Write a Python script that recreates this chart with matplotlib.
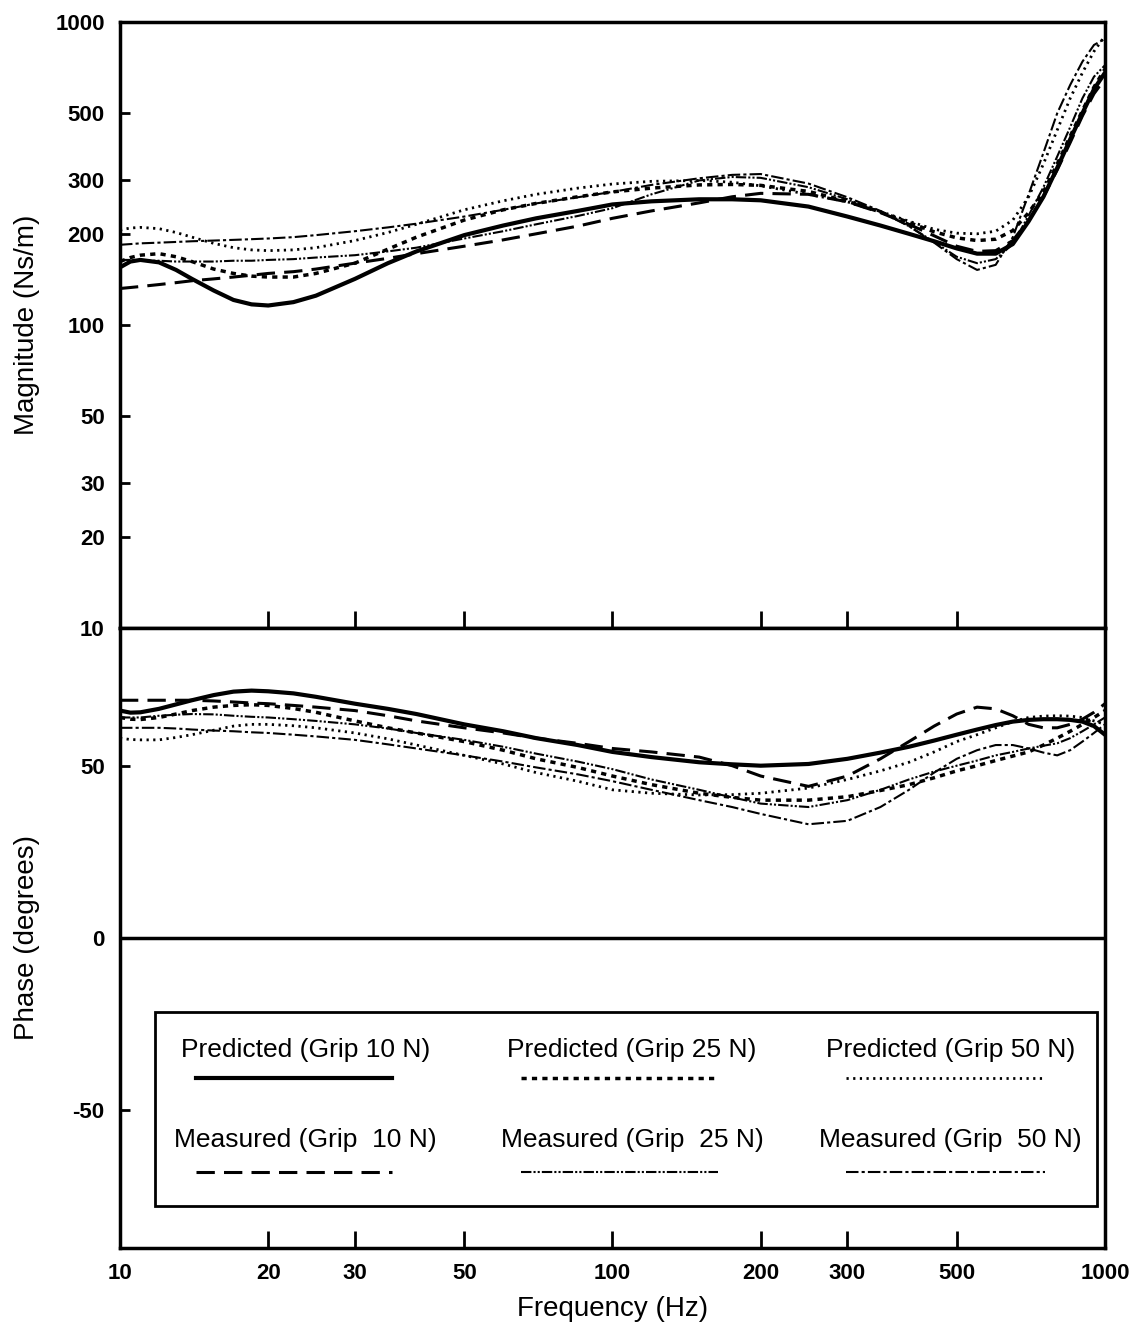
import matplotlib
matplotlib.use("Agg")
import matplotlib.pyplot as plt
from matplotlib.patches import Rectangle
from matplotlib.lines import Line2D
from matplotlib.ticker import FixedLocator, NullLocator

plt.rcParams['font.family'] = ['Liberation Sans', 'DejaVu Sans']

# ---------------- data ----------------
freq = [10, 10.5, 11, 12, 13, 14, 15.5, 17, 18.5, 20, 22.5, 25, 30, 35, 40, 50,
        60, 70, 85, 100, 120, 150, 175, 200, 250, 300, 350, 400, 450, 500, 550,
        600, 650, 700, 750, 800, 850, 900, 950, 1000]

# Magnitude (Ns/m)
mag_pred_10 = [155, 162, 164, 161, 152, 142, 130, 121, 117, 116, 119, 125, 142, 160,
               175, 198, 213, 225, 238, 250, 256, 260, 260, 258, 246, 228, 213, 200,
               189, 179, 172, 172, 185, 220, 265, 330, 410, 500, 600, 680]
mag_pred_25 = [162, 167, 170, 172, 168, 162, 153, 148, 145, 144, 144, 148, 160, 178,
               195, 222, 240, 252, 265, 275, 283, 290, 291, 289, 276, 256, 236, 218,
               203, 194, 190, 192, 205, 235, 275, 340, 420, 510, 610, 700]
mag_pred_50 = [206, 209, 210, 208, 202, 195, 186, 180, 177, 176, 177, 180, 190, 202,
               215, 240, 257, 270, 283, 292, 298, 300, 296, 288, 270, 255, 237, 220,
               207, 201, 200, 204, 222, 265, 340, 440, 560, 680, 800, 900]
mag_meas_10 = [132, 133, 134, 136, 138, 140, 142, 144, 146, 148, 150, 153, 160, 166,
               172, 182, 191, 200, 212, 225, 238, 253, 265, 272, 270, 255, 235, 215,
               197, 182, 175, 176, 190, 222, 265, 325, 400, 490, 580, 650]
mag_meas_25 = [164, 164, 163, 163, 162, 162, 162, 163, 163, 164, 165, 167, 170, 175,
               180, 193, 204, 215, 229, 243, 270, 300, 308, 306, 285, 260, 236, 212,
               188, 168, 160, 165, 185, 230, 285, 360, 450, 560, 660, 720]
mag_meas_50 = [184, 185, 186, 187, 188, 189, 190, 191, 192, 193, 195, 198, 204, 210,
               216, 228, 240, 252, 264, 275, 290, 305, 313, 315, 293, 264, 238, 212,
               187, 165, 152, 158, 195, 270, 370, 500, 620, 740, 840, 880]

# Phase (degrees)
ph_pred_10 = [66, 65.4, 65.5, 66.5, 67.8, 69, 70.5, 71.5, 71.8, 71.6, 71, 70, 68,
              66.5, 65, 62, 60, 58, 56, 54, 52.5, 51, 50.4, 50, 50.5, 52, 53.8,
              55.5, 57.3, 59, 60.5, 61.8, 62.8, 63.3, 63.5, 63.5, 63.3, 62.8, 61.5, 59]
ph_pred_25 = [64, 63.5, 63.4, 64, 65, 66, 67, 67.5, 67.7, 67.5, 66.6, 65.5, 63,
              61, 59.5, 57, 54.5, 52, 49.5, 47, 44.5, 42, 40.8, 40, 40, 41, 42.8,
              44.5, 46.5, 48.5, 50, 51.5, 52.8, 54, 56, 58, 60, 62, 64, 66]
ph_pred_50 = [58, 57.6, 57.5, 57.5, 58.2, 59, 60.3, 61.5, 62, 62, 61.6, 61, 59.5,
              57.8, 56, 53, 50.5, 48, 45.5, 43, 42, 41.5, 41.6, 42, 43.5, 46, 48.5,
              51, 54, 57, 59, 61, 62.8, 64, 64.4, 64.5, 64.4, 64, 63, 62]
ph_meas_10 = [69, 69, 69, 69, 69, 69, 68.8, 68.5, 68.2, 68, 67.5, 67, 66, 64.5,
              63, 61, 59.5, 58, 56.5, 55, 54, 52.5, 50, 47, 44, 47, 52, 57, 61.5,
              65, 67, 66.5, 64.5, 62, 61, 61, 62, 63.5, 65.5, 68]
ph_meas_25 = [64, 64, 64, 64.5, 64.8, 65, 64.9, 64.5, 64.2, 64, 63.5, 63, 62,
              60.8, 59.5, 57.5, 55.5, 53.5, 51.2, 49, 46, 43, 40.8, 39, 38, 40, 43,
              46, 48.3, 50, 51.5, 53, 54, 55, 55.8, 56.5, 58, 60, 62, 64]
ph_meas_50 = [61, 61, 61, 61, 60.8, 60.5, 60.2, 60, 59.7, 59.5, 59, 58.5, 57.5,
              56.2, 55, 53, 51.2, 49.5, 47.5, 45.5, 43, 40, 38, 36, 33, 34, 38,
              43, 48, 52, 54.5, 56, 56, 55, 53.8, 53, 54.5, 57, 59.5, 62]

labels = ["Predicted (Grip 10 N)", "Predicted (Grip 25 N)", "Predicted (Grip 50 N)",
          "Measured (Grip  10 N)", "Measured (Grip  25 N)", "Measured (Grip  50 N)"]

x_ticks = [10, 20, 30, 50, 100, 200, 300, 500, 1000]
mag_ticks = [10, 20, 30, 50, 100, 200, 300, 500, 1000]
phase_ticks = [-50, 0, 50]

# ---------------- styles ----------------
styles = [
    dict(color='k', lw=3.0, ls='-'),
    dict(color='k', lw=2.5, ls=(0, (1.5, 1.5))),
    dict(color='k', lw=2.0, ls=(0, (0.8, 1.6))),
    dict(color='k', lw=2.2, ls=(0, (6, 3))),
    dict(color='k', lw=1.5, ls=(0, (5, 1, 1, 1, 1, 1))),
    dict(color='k', lw=1.5, ls=(0, (6, 1.5, 1.5, 1.5))),
]

mags = [mag_pred_10, mag_pred_25, mag_pred_50, mag_meas_10, mag_meas_25, mag_meas_50]
phases = [ph_pred_10, ph_pred_25, ph_pred_50, ph_meas_10, ph_meas_25, ph_meas_50]

fig = plt.figure(figsize=(11.48, 13.34), dpi=100)
ax1 = fig.add_axes([0.1045, 0.5292, 0.858, 0.4543])
ax2 = fig.add_axes([0.1045, 0.0645, 0.858, 0.4648])

for m, st in zip(mags, styles):
    ax1.plot(freq, m, **st)
for p, st in zip(phases, styles):
    ax2.plot(freq, p, **st)

tick_font = dict(fontsize=16, fontweight='bold')

for ax in (ax1, ax2):
    ax.set_xscale('log')
    ax.set_xlim(10, 1000)
    for s in ax.spines.values():
        s.set_linewidth(2.5)
    ax.xaxis.set_major_locator(FixedLocator(x_ticks))
    ax.xaxis.set_minor_locator(NullLocator())
    ax.tick_params(axis='both', which='major', direction='in', length=12,
                   width=2, pad=11)
    ax.tick_params(axis='x', top=False)
    ax.tick_params(axis='y', right=False)

ax1.set_yscale('log')
ax1.set_ylim(10, 1000)
ax1.yaxis.set_major_locator(FixedLocator(mag_ticks))
ax1.yaxis.set_minor_locator(NullLocator())
ax1.set_yticklabels([str(v) for v in mag_ticks], **tick_font)
ax1.tick_params(axis='y', length=7)
ax1.set_xticklabels([])

ax2.set_ylim(-90, 90)
ax2.yaxis.set_major_locator(FixedLocator(phase_ticks))
ax2.set_yticklabels([str(v) for v in phase_ticks], **tick_font)
ax2.tick_params(axis='y', length=7)
ax2.set_xticklabels([str(v) for v in x_ticks], **tick_font)
ax2.axhline(0, color='k', lw=2.5)

ax1.set_ylabel("Magnitude (Ns/m)", fontsize=20)
ax2.set_ylabel("Phase (degrees)", fontsize=20)
ax1.yaxis.set_label_coords(-0.081, 0.5)
ax2.yaxis.set_label_coords(-0.081, 0.5)
ax2.set_xlabel("Frequency (Hz)", fontsize=20)
ax2.xaxis.set_label_coords(0.5, -0.078)

# ---------------- legend box ----------------
ax2.add_patch(Rectangle((0.0355, 0.0677), 0.9565, 0.3133, transform=ax2.transAxes,
                        fill=False, lw=2.0, ec='k', zorder=5))
col_text_x = [0.188, 0.520, 0.843]
col_line = [(0.077, 0.276), (0.407, 0.607), (0.737, 0.939)]
row_text_y = [0.319, 0.174]
row_line_y = [0.274, 0.1226]
for i, (lab, st) in enumerate(zip(labels, styles)):
    r, c = divmod(i, 3)
    ax2.text(col_text_x[c], row_text_y[r], lab, transform=ax2.transAxes,
             ha='center', va='center', fontsize=19)
    x0, x1 = col_line[c]
    ax2.add_line(Line2D([x0, x1], [row_line_y[r], row_line_y[r]],
                        transform=ax2.transAxes, **st))

fig.savefig("out.png", dpi=100)
